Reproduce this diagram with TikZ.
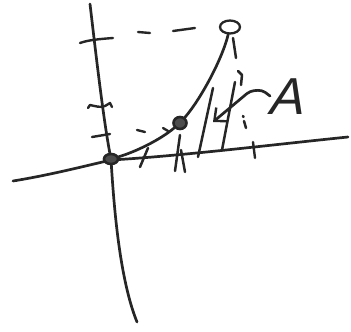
\documentclass[tikz,border=0pt]{standalone}
\usepackage{fontspec}
\newfontfamily\handA[FakeSlant=0.25]{Liberation Sans}
\usetikzlibrary{shapes.geometric,arrows.meta}
\begin{document}
\begin{tikzpicture}[x=1pt,y=-1pt,
  ink/.style={draw=black!85, line width=2.7pt, line cap=round, line join=round},
  thin ink/.style={ink, line width=2.4pt},
  dot/.style={ellipse, draw=black!85, line width=2.6pt, inner sep=0pt, fill=black!70},
  hollow dot/.style={ellipse, draw=black!85, line width=2.3pt, inner sep=0pt, fill=white},
  stripe/.style={ink, line width=2.5pt},
  label A/.style={font=\handA\fontsize{52}{52}\selectfont, text=black!85, inner sep=0pt}]
\useasboundingbox[fill=white] (0,0) rectangle (351,332);

% axes
\draw[ink] (13,181) .. controls (50,175) and (85,166) .. (111,160)
  .. controls (180,156) and (270,145) .. (348,137);
\draw[ink] (90,4) .. controls (96,55) and (104,125) .. (111,159)
  .. controls (114,210) and (120,280) .. (137,322);

% y-axis ticks
\draw[thin ink] (80,43) .. controls (88,40) and (100,39) .. (113,38);
\draw[thin ink] (88,108) -- (90,105) .. controls (95,106) and (100,108) .. (105,106) -- (110,103) -- (112,107);
\draw[thin ink] (92,137) -- (110,134);

% x-axis tick
\draw[thin ink] (253,142) -- (255,158);

% points
\node[dot, minimum width=14pt, minimum height=10pt] (O) at (111,159) {};
\node[dot, minimum width=13pt, minimum height=12pt] (P1) at (180,123) {};
\node[hollow dot, minimum width=20pt, minimum height=13pt] (P2) at (230,27) {};

% curve
\draw[ink] (O) .. controls (135,152) and (160,140) .. (P1);
\draw[ink] (P1) .. controls (200,100) and (222,60) .. (P2);

% dashed guides
\draw[thin ink] (138,32) -- (150,33);
\draw[thin ink] (173,31) -- (195,28);
\draw[thin ink] (137,130) -- (145,132);
\draw[thin ink] (163,128) -- (168,131);

% hatching strokes of the area
\draw[stripe] (140,167) -- (148,148);
\draw[stripe] (175,171) -- (180,135);
\draw[stripe] (181,150) -- (185,172);
\draw[stripe] (198,157) -- (213,88);
\draw[stripe] (222,150) -- (235,82);
\draw[stripe] (238,71) -- (242,75) -- (241,85);
\draw[stripe] (233,38) -- (236,58);
\draw[stripe] (243,116) -- (243.5,117);
\draw[stripe] (244,121) -- (246,128);

% label and arrow
\node[label A] (A) at (285,97) {A};
\coordinate (tail) at (270,96);
\coordinate (head) at (213,122);
\draw[ink, rounded corners=4pt, -{Straight Barb[length=10pt,width=18pt,line width=2.4pt]}]
  (tail) -- (262,90) -- (250,91) -- (head);
\end{tikzpicture}
\end{document}
